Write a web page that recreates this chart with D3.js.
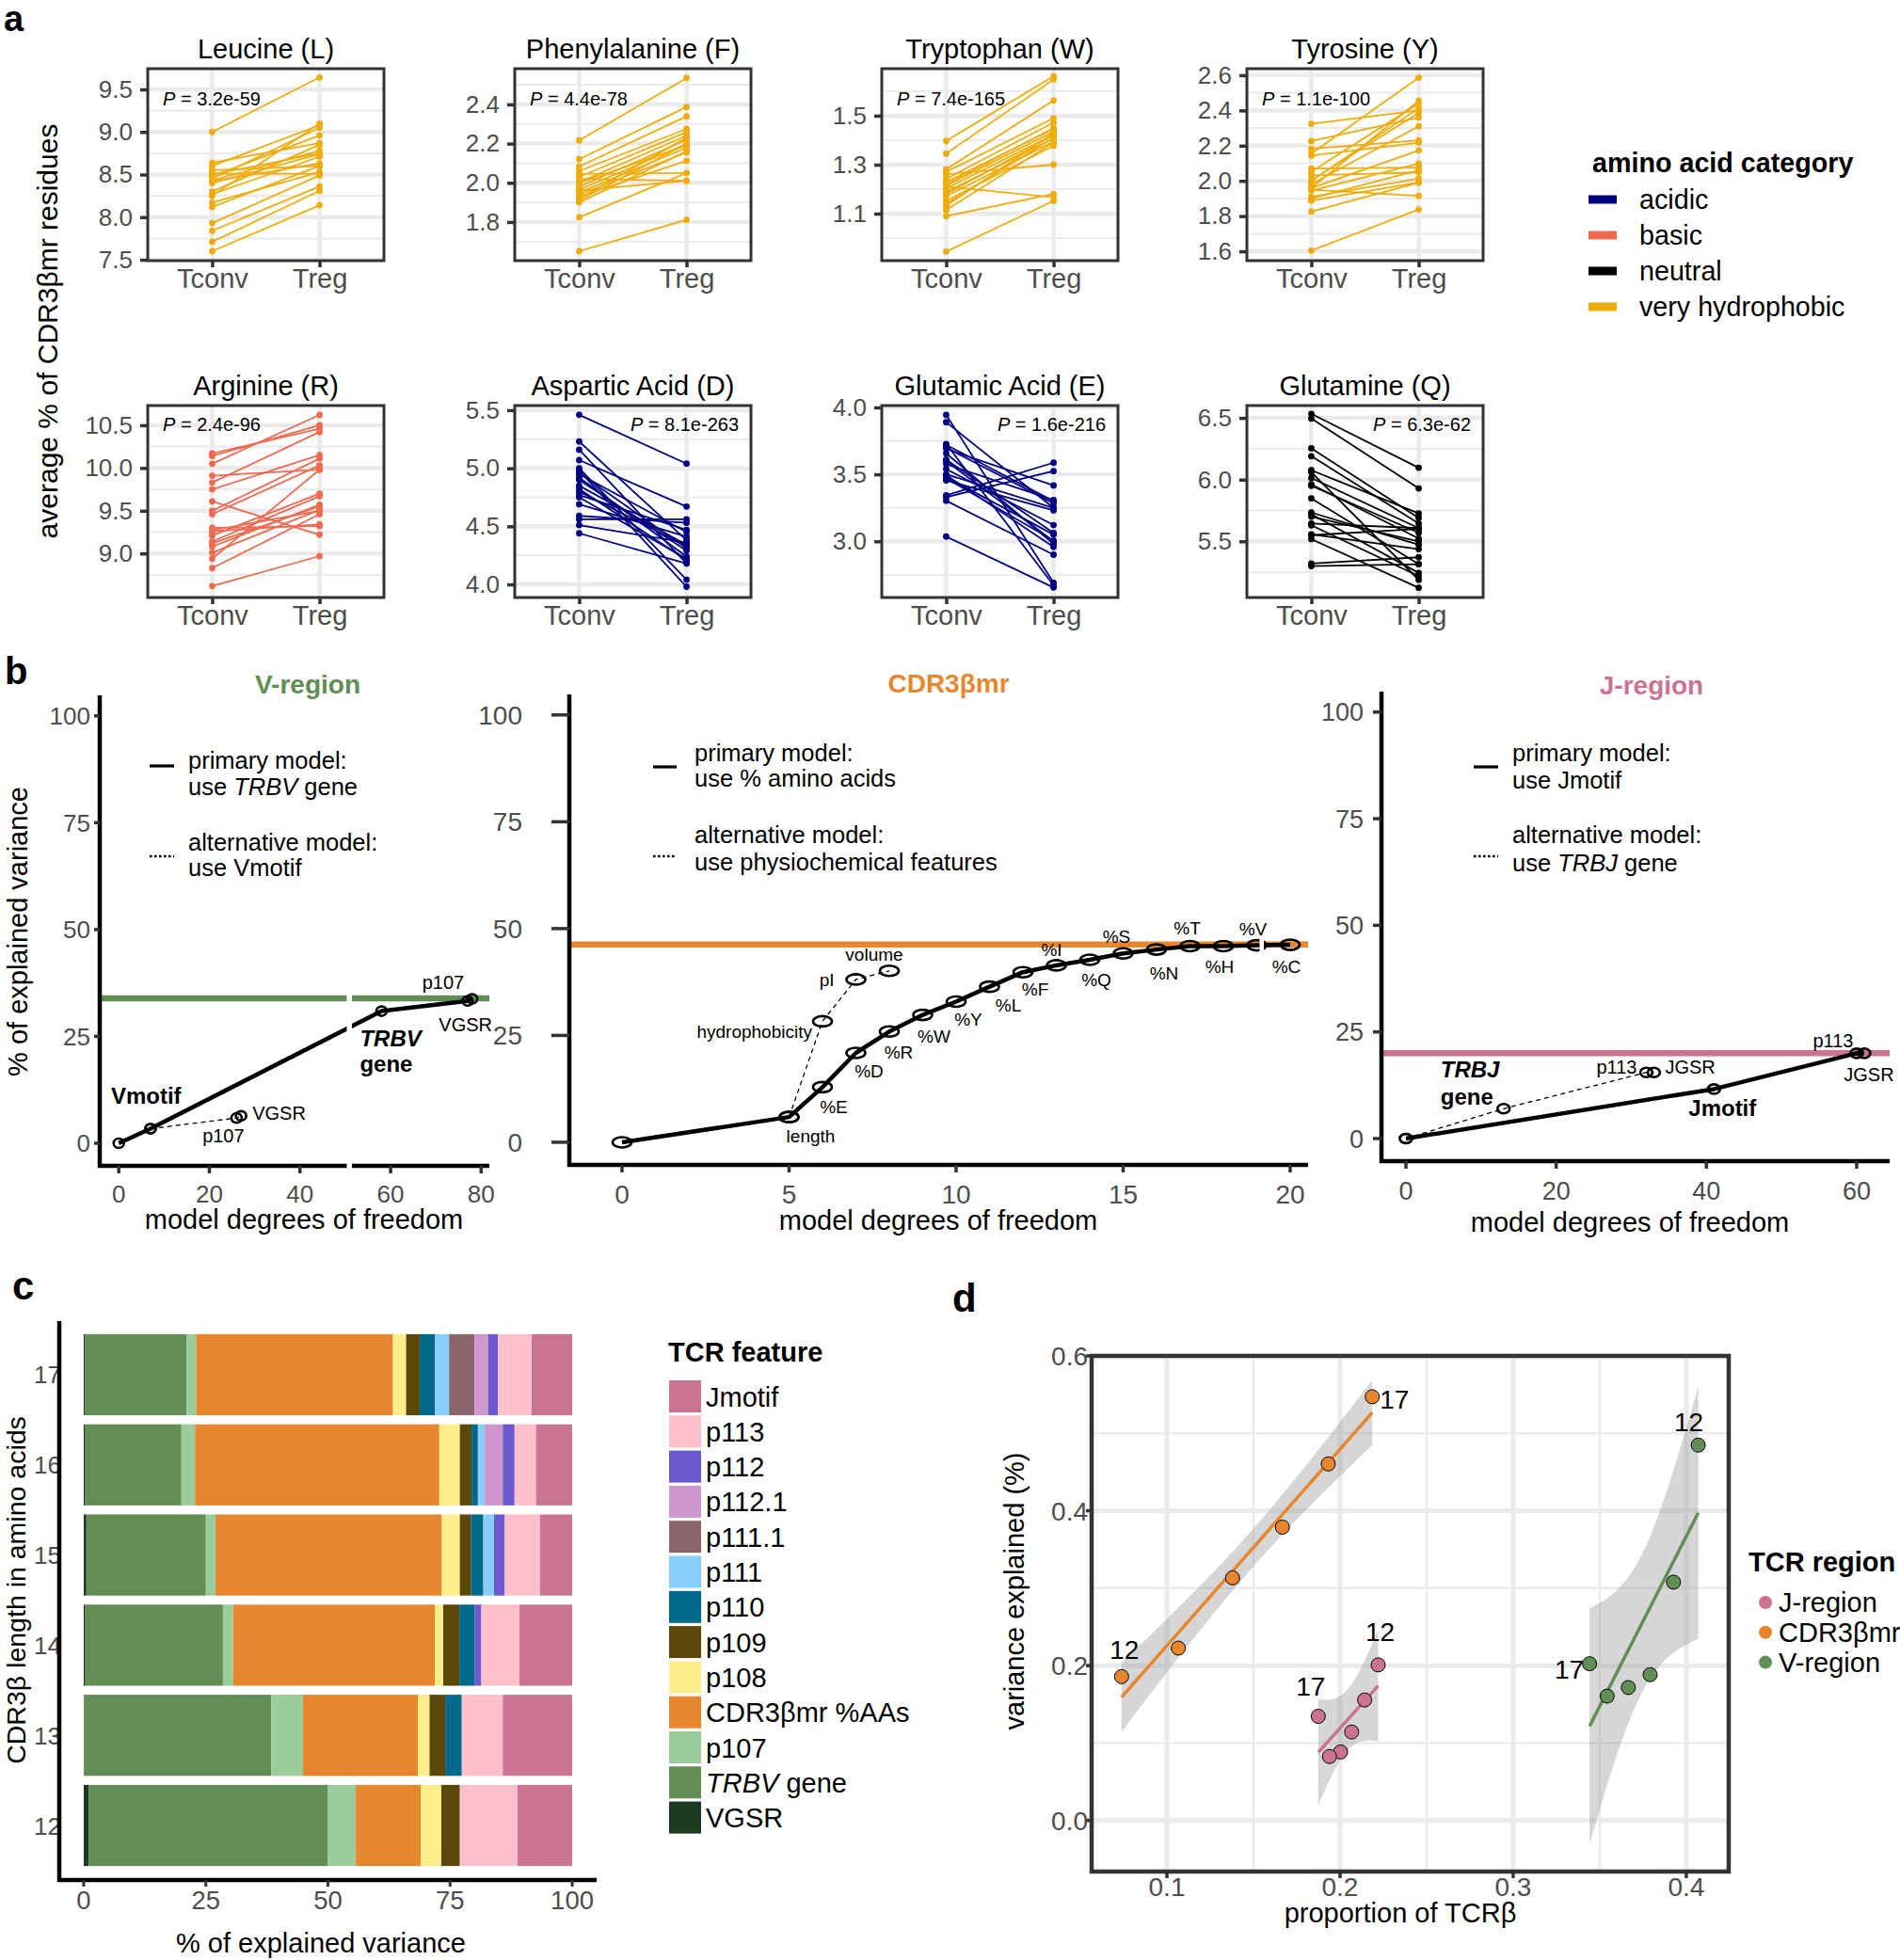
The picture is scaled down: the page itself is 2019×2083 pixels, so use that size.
<!DOCTYPE html>
<html>
<head>
<meta charset="utf-8">
<script src="https://cdn.jsdelivr.net/npm/d3@7"></script>
<style>
html,body{margin:0;padding:0;background:#fff;}
svg{display:block;}
text{font-family:"Liberation Sans",Arial,Helvetica,sans-serif;white-space:pre;}
</style>
</head>
<body>
<svg id="fig" width="2019" height="2083" xmlns="http://www.w3.org/2000/svg"></svg>
<script>
// ================= DATA : panel a =================
const aaTitles = ["Leucine (L)","Phenylalanine (F)","Tryptophan (W)","Tyrosine (Y)","Arginine (R)","Aspartic Acid (D)","Glutamic Acid (E)","Glutamine (Q)"];
const aaCategories = ["very hydrophobic","very hydrophobic","very hydrophobic","very hydrophobic","basic","acidic","acidic","neutral"];
const aaPValues = ["3.2e-59","4.4e-78","7.4e-165","1.1e-100","2.4e-96","8.1e-263","1.6e-216","6.3e-62"];
const groups = ["Tconv","Treg"];

const leucineTconv = [9.00,8.64,8.60,8.55,8.51,8.48,8.45,8.43,8.40,8.42,8.30,8.27,8.25,8.17,8.12,7.93,7.84,7.71,7.60,8.50];
const leucineTreg  = [9.64,8.87,9.08,8.60,8.51,8.96,9.05,8.78,8.74,8.63,8.85,8.71,9.10,8.53,8.60,8.49,8.36,8.31,8.14,8.75];
const pheTconv = [2.216,2.12,2.083,2.06,2.045,2.03,2.02,2.003,1.98,1.965,1.95,1.94,1.93,1.91,1.92,1.90,1.824,1.651,2.00,1.96];
const pheTreg  = [2.534,2.387,2.339,2.275,2.05,2.259,2.01,2.24,2.219,2.198,2.179,2.155,2.112,2.20,2.23,2.16,2.05,1.811,2.19,2.01];
const trpTconv = [1.397,1.345,1.281,1.27,1.261,1.242,1.229,1.214,1.21,1.203,1.188,1.171,1.152,1.14,1.132,1.115,1.09,0.945,1.22,1.18];
const trpTreg  = [1.661,1.648,1.562,1.490,1.30,1.472,1.446,1.435,1.167,1.423,1.407,1.394,1.377,1.41,1.43,1.39,1.18,1.152,1.45,1.42];
const tyrTconv = [2.324,2.226,2.182,2.155,2.143,2.07,2.052,2.031,2.004,1.981,1.959,1.945,1.91,1.888,1.826,1.604,1.96,2.0,1.95,1.90];
const tyrTreg  = [2.40,2.36,2.23,2.586,2.217,2.075,2.44,2.048,2.386,2.31,2.173,2.098,2.013,1.991,1.99,1.838,2.454,2.413,1.915,2.06];
const argTconv = [10.17,10.14,10.05,9.91,9.83,9.75,9.61,9.50,9.46,9.30,9.26,9.21,9.14,9.08,9.01,8.94,8.83,8.62,9.27,9.12];
const argTreg  = [10.46,10.50,10.62,9.98,10.42,10.15,9.22,10.11,10.03,9.32,9.34,9.70,9.67,9.57,9.51,9.98,9.46,8.97,9.50,9.55];
const aspTconv = [5.46,5.23,5.16,5.07,5.00,4.96,4.92,4.85,4.82,4.77,4.69,4.59,4.56,4.51,4.44,4.98,4.90,4.80,4.75,4.95];
const aspTreg  = [5.04,4.38,4.18,4.67,4.04,4.31,4.24,4.34,4.21,4.47,4.41,4.53,4.56,4.36,4.18,3.98,4.29,4.33,4.22,4.45];
const gluTconv = [3.944,3.89,3.727,3.69,3.657,3.61,3.576,3.54,3.494,3.47,3.455,3.343,3.33,3.303,3.035,3.70,3.60,3.50,3.72,3.48];
const gluTreg  = [2.69,3.25,2.671,3.417,2.98,3.063,3.308,3.121,2.958,3.005,3.231,3.587,3.524,2.9,2.655,3.284,3.00,3.249,3.30,3.05];
const glnTconv = [6.533,6.495,6.254,6.19,6.076,6.06,6.013,5.962,5.848,5.733,5.72,5.645,5.63,5.556,5.518,5.32,5.30,5.95,5.55,5.70];
const glnTreg  = [6.096,5.929,5.69,5.645,5.726,5.188,5.607,5.523,5.315,5.472,5.244,5.607,5.218,5.437,5.124,5.371,5.315,5.569,5.60,5.50];

const aaTicks = [[7.5,8.0,8.5,9.0,9.5],[1.8,2.0,2.2,2.4],[1.1,1.3,1.5],[1.6,1.8,2.0,2.2,2.4,2.6],[9.0,9.5,10.0,10.5],[4.0,4.5,5.0,5.5],[3.0,3.5,4.0],[5.5,6.0,6.5]];
const aaLimits = [[7.489,9.743],[1.603,2.582],[0.908,1.692],[1.547,2.637],[8.486,10.73],[3.887,5.54],[2.58,4.014],[5.045,6.6]];
const categoryNames = ["acidic","basic","neutral","very hydrophobic"];

// ================= DATA : panel b =================
const bYTicks = [0,25,50,75,100];
const vPrimaryDf = [0,7,58,77,78];
const vPrimaryVar = [0,3.4,30.9,33.3,33.8];
const vPrimaryNames = ["","Vmotif","TRBV gene","p107","VGSR"];
const vAltDf = [7,26,27];
const vAltVar = [3.4,5.9,6.4];
const vAltNames = ["","p107","VGSR"];
const vTotalVar = 33.9;
const vXTicks = [0,20,40,60,80];

const cdrPrimaryDf = [0,5,6,7,8,9,10,11,12,13,14,15,16,17,18,19,20];
const cdrPrimaryVar = [0,5.9,12.9,20.9,25.9,29.8,32.9,36.4,39.8,41.4,42.7,44.2,45.1,45.9,45.9,46.1,46.2];
const cdrPrimaryNames = ["","length","%E","%D","%R","%W","%Y","%L","%F","%I","%Q","%S","%N","%T","%H","%V","%C"];
const cdrAltDf = [5,6,7,8];
const cdrAltVar = [5.9,28.3,38.1,40.1];
const cdrAltNames = ["","hydrophobicity","pI","volume"];
const cdrTotalVar = 46.3;
const cdrXTicks = [0,5,10,15,20];

const jPrimaryDf = [0,41,60,61];
const jPrimaryVar = [0,11.6,20.0,20.0];
const jPrimaryNames = ["","Jmotif","p113","JGSR"];
const jAltDf = [0,13,32,33];
const jAltVar = [0,7.0,15.5,15.5];
const jAltNames = ["","TRBJ gene","p113","JGSR"];
const jTotalVar = 20.0;
const jXTicks = [0,20,40,60];

// ================= DATA : panel c =================
const cdr3Lengths = [17,16,15,14,13,12];
const featureKeys = ["VGSR","TRBV gene","p107","CDR3βmr %AAs","p108","p109","p110","p111","p111.1","p112.1","p112","p113","Jmotif"];
const pctVGSR   = [0.3,0.2,0.55,0.2,0.1,1.0];
const pctTRBV   = [20.8,19.8,24.45,28.3,38.3,49.0];
const pctP107   = [1.9,2.8,2.0,2.1,6.5,5.7];
const pctCDR3   = [40.3,50.0,46.3,41.3,23.5,13.3];
const pctP108   = [2.7,4.2,3.7,1.7,2.4,4.2];
const pctP109   = [2.8,2.4,2.3,3.3,3.2,3.8];
const pctP110   = [3.1,1.3,2.5,3.1,3.4,0];
const pctP111   = [2.9,1.4,2.2,0,0,0];
const pctP111_1 = [5.2,0,0,0,0,0];
const pctP112_1 = [2.8,3.7,0,0,0,0];
const pctP112   = [2.0,2.4,2.2,1.4,0,0];
const pctP113   = [6.9,4.4,7.2,7.8,8.4,11.8];
const pctJmotif = [8.3,7.4,6.6,10.8,14.2,11.2];
const cXTicks = [0,25,50,75,100];

// ================= DATA : panel d =================
const regionNames = ["J-region","CDR3βmr","V-region"];
const jProp = [0.222,0.2142,0.2067,0.2003,0.1939,0.1874];
const jVarExpl = [0.2009,0.1556,0.1143,0.0885,0.0826,0.1345];
const cdrProp = [0.0738,0.1066,0.1379,0.1667,0.1932,0.2186];
const cdrVarExpl = [0.1858,0.2226,0.3133,0.3788,0.4605,0.5472];
const vProp = [0.4069,0.3926,0.3791,0.3665,0.3543,0.3441];
const vVarExpl = [0.4848,0.3078,0.1883,0.1717,0.1606,0.2024];
const dLengthsJ = [12,13,14,15,16,17];
const dLengthsC = [12,13,14,15,16,17];
const dLengthsV = [12,13,14,15,16,17];
const dXTicks = [0.1,0.2,0.3,0.4];
const dYTicks = [0.0,0.2,0.4,0.6];

// ================= STYLE =================
const catColor = d3.scaleOrdinal().domain(categoryNames).range(["#000080","#EE6A50","#000000","#EEAD0E"]);
const colJ = "#cb7393", colC = "#e8862e", colV = "#618e55";
const featureColors = ["#1c3a1f","#628d55","#9bcd9b","#e8862e","#ffec8b","#5b4708","#00688b","#87cefa","#8b636c","#cd96cd","#6a5acd","#ffc0cb","#cb7393"];
const tickGrey = "#4d4d4d";

const svg = d3.select("#fig");
svg.append("rect").attr("width",2019).attr("height",2083).attr("fill","#fff");

function addText(parent, x, y, str, o = {}) {
  const t = parent.append("text").attr("x", x).attr("y", y)
    .attr("font-size", o.size || 24).attr("fill", o.fill || "#000")
    .attr("text-anchor", o.anchor || "start");
  if (o.weight) t.attr("font-weight", o.weight);
  if (o.italic) t.attr("font-style", "italic");
  if (o.rotate) t.attr("transform", `rotate(${o.rotate},${x},${y})`);
  if (Array.isArray(str)) {
    str.forEach(p => {
      const s = typeof p === "string" ? {t:p} : p;
      const ts = t.append("tspan").text(s.t);
      if (s.italic) ts.attr("font-style","italic");
      if (s.weight) ts.attr("font-weight", s.weight);
    });
  } else t.text(str);
  return t;
}

// panel letters
addText(svg, 4, 33, "a", {size:38, weight:"bold"});
addText(svg, 5, 727, "b", {size:40, weight:"bold"});
addText(svg, 13, 1381, "c", {size:42, weight:"bold"});
addText(svg, 1012, 1394, "d", {size:42, weight:"bold"});

// ================= PANEL a =================
const aaTconv = [leucineTconv,pheTconv,trpTconv,tyrTconv,argTconv,aspTconv,gluTconv,glnTconv];
const aaTreg = [leucineTreg,pheTreg,trpTreg,tyrTreg,argTreg,aspTreg,gluTreg,glnTreg];
const aColX = [157,547,937,1325], aRowY = [73,431], aW = 251, aH = 204;

aaTitles.forEach((title, i) => {
  const col = i % 4, row = Math.floor(i / 4);
  const g = svg.append("g").attr("transform", `translate(${aColX[col]},${aRowY[row]})`);
  const x = d3.scalePoint().domain(groups).range([0, aW]).padding(0.6);
  const [lo, hi] = aaLimits[i];
  const y = d3.scaleLinear().domain([lo, hi]).range([aH, 0]);
  const ticks = aaTicks[i], st = ticks[1] - ticks[0];
  const minor = [ticks[0] - st/2].concat(ticks.map(t => t + st/2)).filter(v => v > lo && v < hi);
  g.selectAll("line.mn").data(minor).join("line").attr("class","mn")
    .attr("x1",0).attr("x2",aW).attr("y1",d=>y(d)).attr("y2",d=>y(d))
    .attr("stroke","#ebebeb").attr("stroke-width",2.2);
  g.selectAll("line.mj").data(ticks).join("line").attr("class","mj")
    .attr("x1",0).attr("x2",aW).attr("y1",d=>y(d)).attr("y2",d=>y(d))
    .attr("stroke","#ebebeb").attr("stroke-width",4.5);
  g.selectAll("line.vg").data(groups).join("line").attr("class","vg")
    .attr("x1",d=>x(d)).attr("x2",d=>x(d)).attr("y1",0).attr("y2",aH)
    .attr("stroke","#ebebeb").attr("stroke-width",4.5);
  const color = catColor(aaCategories[i]);
  const pairs = aaTconv[i].map((v,k) => ({a:v, b:aaTreg[i][k]}));
  g.selectAll("line.pr").data(pairs).join("line").attr("class","pr")
    .attr("x1",x("Tconv")).attr("x2",x("Treg")).attr("y1",d=>y(d.a)).attr("y2",d=>y(d.b))
    .attr("stroke",color).attr("stroke-width",1.8);
  g.selectAll("circle.c1").data(pairs).join("circle").attr("class","c1")
    .attr("cx",x("Tconv")).attr("cy",d=>y(d.a)).attr("r",3.4).attr("fill",color);
  g.selectAll("circle.c2").data(pairs).join("circle").attr("class","c2")
    .attr("cx",x("Treg")).attr("cy",d=>y(d.b)).attr("r",3.4).attr("fill",color);
  g.append("rect").attr("width",aW).attr("height",aH).attr("fill","none").attr("stroke","#333").attr("stroke-width",3);
  const ya = g.append("g").call(d3.axisLeft(y).tickValues(ticks).tickFormat(d3.format(".1f")).tickSize(8).tickPadding(8));
  ya.select(".domain").remove();
  ya.selectAll("line").attr("stroke","#333").attr("stroke-width",3.5);
  ya.selectAll("text").attr("font-size",26).attr("fill",tickGrey);
  const xa = g.append("g").attr("transform",`translate(0,${aH})`).call(d3.axisBottom(x).tickSize(7));
  xa.select(".domain").remove();
  xa.selectAll("line").attr("stroke","#333").attr("stroke-width",3.5);
  xa.selectAll("text").attr("font-size",29).attr("fill",tickGrey).attr("y",29).attr("dy",null);
  addText(g, aW/2, -11, title, {size:29, anchor:"middle"});
  const inc = d3.mean(aaTreg[i]) > d3.mean(aaTconv[i]);
  addText(g, inc ? 16 : aW - 13, row === 0 ? 39 : 26.5, [{t:"P",italic:true},{t:" = " + aaPValues[i]}], {size:20, anchor: inc ? "start" : "end"});
});
addText(svg, 61, 352, "average % of CDR3βmr residues", {size:30, anchor:"middle", rotate:-90});

// legend a
addText(svg, 1692, 183, "amino acid category", {size:28.7, weight:"bold"});
categoryNames.forEach((c, k) => {
  const yc = 212 + k * 38;
  svg.append("rect").attr("x",1688).attr("y",yc-4.5).attr("width",30).attr("height",9).attr("fill",catColor(c));
  addText(svg, 1742, yc + 10, c, {size:28.7});
});

// ================= PANEL b =================
const bYDomain = [-5.3, 104.8];
const bPanels = [
  {title:"V-region", color:colV, titleX:327, titleY:737,
   xDomain:[-4.2,81.8], xRange:[106,520], yRange:[1239,739], xTicks:vXTicks,
   yTickLen:6, yTickPad:4, yFont:26, xFont:26, xBase:39,
   rx:5.5, ry:5, total:vTotalVar,
   pDf:vPrimaryDf, pVar:vPrimaryVar, pNames:vPrimaryNames, aDf:vAltDf, aVar:vAltVar, aNames:vAltNames,
   legKeyX:[159,185], legKeyY:[814,910], legTextX:200, legBase:[817,845,904,931],
   legText:["primary model:", ["use ",{t:"TRBV",italic:true}," gene"], "alternative model:", "use Vmotif"],
   xTitle:[323,1306], brk:[368.5,1040,5.5,206],
   pLab:[null,{dx:-42,dy:-26,a:"start",s:24,b:1},{dx:-23,dy:37,a:"start",s:24,b:1,two:64},{dx:-26,dy:-13,a:"middle",s:20},{dx:-7,dy:35,a:"middle",s:20}],
   aLab:[null,{dx:-14,dy:26,a:"middle",s:20},{dx:12,dy:4,a:"start",s:20}]},
  {title:"CDR3βmr", color:colC, titleX:1008, titleY:736,
   xDomain:[-1.577,20.535], xRange:[605,1390], yRange:[1238,738], xTicks:cdrXTicks,
   yTickLen:19, yTickPad:31, yFont:28, xFont:28, xBase:41,
   rx:10, ry:5.5, total:cdrTotalVar,
   pDf:cdrPrimaryDf, pVar:cdrPrimaryVar, pNames:cdrPrimaryNames, aDf:cdrAltDf, aVar:cdrAltVar, aNames:cdrAltNames,
   legKeyX:[694,719], legKeyY:[815,910], legTextX:738, legBase:[809,836,896,925],
   legText:["primary model:", "use % amino acids", "alternative model:", "use physiochemical features"],
   xTitle:[997,1307], brk:[1338.5,994,4.5,20],
   pLab:[null,{dx:23,dy:27},{dx:12,dy:28},{dx:14,dy:26},{dx:10,dy:29},{dx:12,dy:29},{dx:13,dy:25},{dx:20,dy:26},{dx:13,dy:25},{dx:-5,dy:-10},{dx:7,dy:28},{dx:-7,dy:-11},{dx:8,dy:32},{dx:-3,dy:-12},{dx:-4,dy:29},{dx:-4,dy:-11},{dx:-4,dy:30}],
   aLab:[null,{dx:-11,dy:18,a:"end"},{dx:-23,dy:7,a:"end"},{dx:-16,dy:-11,a:"middle"}]},
  {title:"J-region", color:colJ, titleX:1755, titleY:738,
   xDomain:[-3.257,64.39], xRange:[1468,2008], yRange:[1234,735], xTicks:jXTicks,
   yTickLen:9, yTickPad:10, yFont:27, xFont:27, xBase:41,
   rx:6.5, ry:5, total:jTotalVar,
   pDf:jPrimaryDf, pVar:jPrimaryVar, pNames:jPrimaryNames, aDf:jAltDf, aVar:jAltVar, aNames:jAltNames,
   legKeyX:[1566,1592], legKeyY:[815,910], legTextX:1607, legBase:[809,838,896,926],
   legText:["primary model:", "use Jmotif", "alternative model:", ["use ",{t:"TRBJ",italic:true}," gene"]],
   xTitle:[1732,1309], brk:null,
   pLab:[null,{dx:9,dy:29,a:"middle",s:24,b:1},{dx:-25,dy:-6,a:"middle",s:20},{dx:5,dy:30,a:"middle",s:20}],
   aLab:[null,{dx:-67,dy:-33,a:"start",s:24,b:1,two:-4},{dx:-10,dy:1,a:"end",s:20},{dx:12,dy:1,a:"start",s:20}]}
];

bPanels.forEach(c => {
  const x = d3.scaleLinear().domain(c.xDomain).range(c.xRange);
  const y = d3.scaleLinear().domain(bYDomain).range(c.yRange);
  const g = svg.append("g");
  const ax = c.xRange[0], ay = c.yRange[0];
  addText(g, c.titleX, c.titleY, c.title, {size:28, weight:"bold", anchor:"middle", fill:c.color});
  g.append("line").attr("x1",ax).attr("x2",c.xRange[1]).attr("y1",y(c.total)).attr("y2",y(c.total))
    .attr("stroke",c.color).attr("stroke-width",6.5);
  const line = d3.line().x(d=>x(d[0])).y(d=>y(d[1]));
  const alt = d3.zip(c.aDf, c.aVar), prim = d3.zip(c.pDf, c.pVar);
  g.append("path").attr("d",line(alt)).attr("fill","none").attr("stroke","#000").attr("stroke-width",1.3).attr("stroke-dasharray","5,4");
  g.append("path").attr("d",line(prim)).attr("fill","none").attr("stroke","#000").attr("stroke-width",4.5).attr("stroke-linejoin","round");
  g.selectAll("ellipse").data(prim.concat(alt)).join("ellipse")
    .attr("cx",d=>x(d[0])).attr("cy",d=>y(d[1])).attr("rx",c.rx).attr("ry",c.ry)
    .attr("fill","none").attr("stroke","#000").attr("stroke-width",2.6);
  g.append("line").attr("x1",ax).attr("x2",ax).attr("y1",ay+2).attr("y2",c.yRange[1]).attr("stroke","#000").attr("stroke-width",4.5);
  g.append("line").attr("x1",ax-2).attr("x2",c.xRange[1]).attr("y1",ay).attr("y2",ay).attr("stroke","#000").attr("stroke-width",4.5);
  bYTicks.forEach(t => {
    g.append("line").attr("x1",ax-c.yTickLen).attr("x2",ax).attr("y1",y(t)).attr("y2",y(t)).attr("stroke","#333").attr("stroke-width",3.5);
    addText(g, ax-c.yTickLen-c.yTickPad, y(t)+c.yFont*0.36, String(t), {size:c.yFont, anchor:"end", fill:tickGrey});
  });
  c.xTicks.forEach(t => {
    g.append("line").attr("x1",x(t)).attr("x2",x(t)).attr("y1",ay).attr("y2",ay+8).attr("stroke","#333").attr("stroke-width",3.5);
    addText(g, x(t), ay+c.xBase, String(t), {size:c.xFont, anchor:"middle", fill:tickGrey});
  });
  if (c.brk) g.append("rect").attr("x",c.brk[0]).attr("y",c.brk[1]).attr("width",c.brk[2]).attr("height",c.brk[3]).attr("fill","#fff");
  addText(g, c.xTitle[0], c.xTitle[1], "model degrees of freedom", {size:29, anchor:"middle"});
  g.append("line").attr("x1",c.legKeyX[0]).attr("x2",c.legKeyX[1]).attr("y1",c.legKeyY[0]).attr("y2",c.legKeyY[0]).attr("stroke","#000").attr("stroke-width",3.2);
  g.append("line").attr("x1",c.legKeyX[0]).attr("x2",c.legKeyX[1]).attr("y1",c.legKeyY[1]).attr("y2",c.legKeyY[1]).attr("stroke","#000").attr("stroke-width",2.6).attr("stroke-dasharray","2.6,2.4");
  c.legText.forEach((t,k) => addText(g, c.legTextX, c.legBase[k], t, {size:25.5}));
  const drawLab = (names, dfs, vars, specs) => {
    names.forEach((nm, k) => {
      const s = specs[k]; if (!s || !nm) return;
      const px = x(dfs[k]) + s.dx, py = y(vars[k]) + s.dy;
      const size = s.s || 19, anchor = s.a || "middle", weight = s.b ? "bold" : null;
      if (s.two !== undefined) {
        const w = nm.split(" ");
        addText(g, px, py, [{t:w[0], italic:true}], {size, anchor, weight});
        addText(g, px, y(vars[k]) + s.two, w.slice(1).join(" "), {size, anchor, weight});
      } else {
        addText(g, px, py, nm, {size, anchor, weight});
      }
    });
  };
  drawLab(c.pNames, c.pDf, c.pVar, c.pLab);
  drawLab(c.aNames, c.aDf, c.aVar, c.aLab);
});
addText(svg, 29, 990, "% of explained variance", {size:29, anchor:"middle", rotate:-90});

// ================= PANEL c =================
const featureValues = [pctVGSR,pctTRBV,pctP107,pctCDR3,pctP108,pctP109,pctP110,pctP111,pctP111_1,pctP112_1,pctP112,pctP113,pctJmotif];
const cRows = cdr3Lengths.map((L,i) => { const o = {len:L}; featureKeys.forEach((k,j) => o[k] = featureValues[j][i]); return o; });
const stacked = d3.stack().keys(featureKeys)(cRows);
const cX = d3.scaleLinear().domain([-5,105]).range([63,634]);
const cY = d3.scaleBand().domain(cdr3Lengths).range([1403.5,1997.5]).paddingInner(0.1).paddingOuter(0.15);
const fColor = d3.scaleOrdinal().domain(featureKeys).range(featureColors);
svg.append("g").selectAll("g").data(stacked).join("g").attr("fill",d=>fColor(d.key))
  .selectAll("rect").data(d=>d).join("rect")
  .attr("x",d=>cX(d[0])).attr("width",d=>Math.max(0,cX(d[1])-cX(d[0])))
  .attr("y",d=>cY(d.data.len)).attr("height",cY.bandwidth());
cdr3Lengths.forEach(L => addText(svg, 65, cY(L)+cY.bandwidth()/2+9.5, String(L), {size:26, anchor:"end", fill:tickGrey}));
svg.append("line").attr("x1",63).attr("x2",63).attr("y1",1404).attr("y2",2000).attr("stroke","#000").attr("stroke-width",4.5);
svg.append("line").attr("x1",61).attr("x2",634).attr("y1",1998).attr("y2",1998).attr("stroke","#000").attr("stroke-width",4.5);
cXTicks.forEach(t => {
  svg.append("line").attr("x1",cX(t)).attr("x2",cX(t)).attr("y1",1998).attr("y2",2005).attr("stroke","#333").attr("stroke-width",3);
  addText(svg, cX(t), 2029, String(t), {size:27.5, anchor:"middle", fill:tickGrey});
});
addText(svg, 341, 2075, "% of explained variance", {size:29, anchor:"middle"});
addText(svg, 27, 1690, "CDR3β length in amino acids", {size:28.5, anchor:"middle", rotate:-90});
// legend c
addText(svg, 710, 1447, "TCR feature", {size:29, weight:"bold"});
featureKeys.slice().reverse().forEach((k,i) => {
  const top = 1467 + i*37.3;
  svg.append("rect").attr("x",711).attr("y",top).attr("width",34).attr("height",34).attr("fill",fColor(k));
  const lab = k === "TRBV gene" ? [{t:"TRBV",italic:true}," gene"] : k;
  addText(svg, 750, top+27.5, lab, {size:29});
});

// ================= PANEL d =================
const dX = d3.scaleLinear().domain([0.0565,0.4245]).range([1160,1837]);
const dY = d3.scaleLinear().domain([-0.066,0.6]).range([1989,1441]);
const dg = svg.append("g");
dg.append("clipPath").attr("id","dclip").append("rect").attr("x",1160).attr("y",1441).attr("width",677).attr("height",548);
const dMinX = [0.15,0.25,0.35], dMinY = [0.1,0.3,0.5];
dg.selectAll("line.gx").data(dMinX).join("line").attr("x1",d=>dX(d)).attr("x2",d=>dX(d)).attr("y1",1441).attr("y2",1989).attr("stroke","#ebebeb").attr("stroke-width",2.5);
dg.selectAll("line.gy").data(dMinY).join("line").attr("y1",d=>dY(d)).attr("y2",d=>dY(d)).attr("x1",1160).attr("x2",1837).attr("stroke","#ebebeb").attr("stroke-width",2.5);
dg.selectAll("line.gX").data(dXTicks).join("line").attr("x1",d=>dX(d)).attr("x2",d=>dX(d)).attr("y1",1441).attr("y2",1989).attr("stroke","#ebebeb").attr("stroke-width",5);
dg.selectAll("line.gY").data(dYTicks).join("line").attr("y1",d=>dY(d)).attr("y2",d=>dY(d)).attr("x1",1160).attr("x2",1837).attr("stroke","#ebebeb").attr("stroke-width",5);

function lmFit(xs, ys) {
  const n = xs.length, mx = d3.mean(xs), my = d3.mean(ys);
  let sxx = 0, sxy = 0;
  xs.forEach((v,i) => { sxx += (v-mx)**2; sxy += (v-mx)*(ys[i]-my); });
  const b = sxy/sxx, a = my - b*mx;
  let sse = 0; xs.forEach((v,i) => { sse += (ys[i]-a-b*v)**2; });
  const s = Math.sqrt(sse/(n-2)), t = 2.776; // t(0.975, df = 4)
  const [x0,x1] = d3.extent(xs);
  return d3.range(0,81).map(k => { const v = x0 + (x1-x0)*k/80; const f = a + b*v;
    const se = s*Math.sqrt(1/n + (v-mx)**2/sxx); return {x:v, f, lo:f-t*se, hi:f+t*se}; });
}
const dGroups = [
  {name:regionNames[0], xs:jProp, ys:jVarExpl, lens:dLengthsJ, color:colJ, lab:{12:{dx:2,dy:-25,a:"middle"},17:{dx:-8,dy:-22,a:"middle"}}},
  {name:regionNames[1], xs:cdrProp, ys:cdrVarExpl, lens:dLengthsC, color:colC, lab:{12:{dx:3,dy:-19,a:"middle"},17:{dx:8,dy:13,a:"start"}}},
  {name:regionNames[2], xs:vProp, ys:vVarExpl, lens:dLengthsV, color:colV, lab:{12:{dx:-10,dy:-15,a:"middle"},17:{dx:-6,dy:16,a:"end"}}}
];
const cg = dg.append("g").attr("clip-path","url(#dclip)");
dGroups.forEach(gr => {
  const fit = lmFit(gr.xs, gr.ys);
  cg.append("path").attr("d", d3.area().x(d=>dX(d.x)).y0(d=>dY(d.lo)).y1(d=>dY(d.hi))(fit)).attr("fill","#999").attr("fill-opacity",0.4);
});
dGroups.forEach(gr => {
  const fit = lmFit(gr.xs, gr.ys);
  cg.append("path").attr("d", d3.line().x(d=>dX(d.x)).y(d=>dY(d.f))(fit)).attr("fill","none").attr("stroke",gr.color).attr("stroke-width",3.5);
});
dGroups.forEach(gr => {
  gr.xs.forEach((v,i) => {
    dg.append("circle").attr("cx",dX(v)).attr("cy",dY(gr.ys[i])).attr("r",7.5).attr("fill",gr.color).attr("stroke","#000").attr("stroke-width",1);
    const L = gr.lens[i], s = gr.lab[L];
    if (s) addText(dg, dX(v)+s.dx, dY(gr.ys[i])+s.dy, String(L), {size:28, anchor:s.a});
  });
});
dg.append("rect").attr("x",1160).attr("y",1441).attr("width",677).attr("height",548).attr("fill","none").attr("stroke","#333").attr("stroke-width",4.5);
dYTicks.forEach(t => {
  dg.append("line").attr("x1",1154).attr("x2",1160).attr("y1",dY(t)).attr("y2",dY(t)).attr("stroke","#333").attr("stroke-width",3.5);
  addText(dg, 1156, dY(t)+10, d3.format(".1f")(t), {size:28, anchor:"end", fill:tickGrey});
});
dXTicks.forEach(t => {
  dg.append("line").attr("x1",dX(t)).attr("x2",dX(t)).attr("y1",1989).attr("y2",1996).attr("stroke","#333").attr("stroke-width",3.5);
  addText(dg, dX(t), 2015, d3.format(".1f")(t), {size:28, anchor:"middle", fill:tickGrey});
});
addText(svg, 1488, 2043, "proportion of TCRβ", {size:29, anchor:"middle"});
addText(svg, 1088, 1691, "variance explained (%)", {size:29, anchor:"middle", rotate:-90});
// legend d
addText(svg, 1858, 1670, "TCR region", {size:29, weight:"bold"});
dGroups.forEach((gr,k) => {
  const yc = 1703 + k*31.8;
  svg.append("circle").attr("cx",1876).attr("cy",yc).attr("r",7).attr("fill",gr.color);
  addText(svg, 1890, yc+10, gr.name, {size:29});
});
</script>
</body>
</html>
